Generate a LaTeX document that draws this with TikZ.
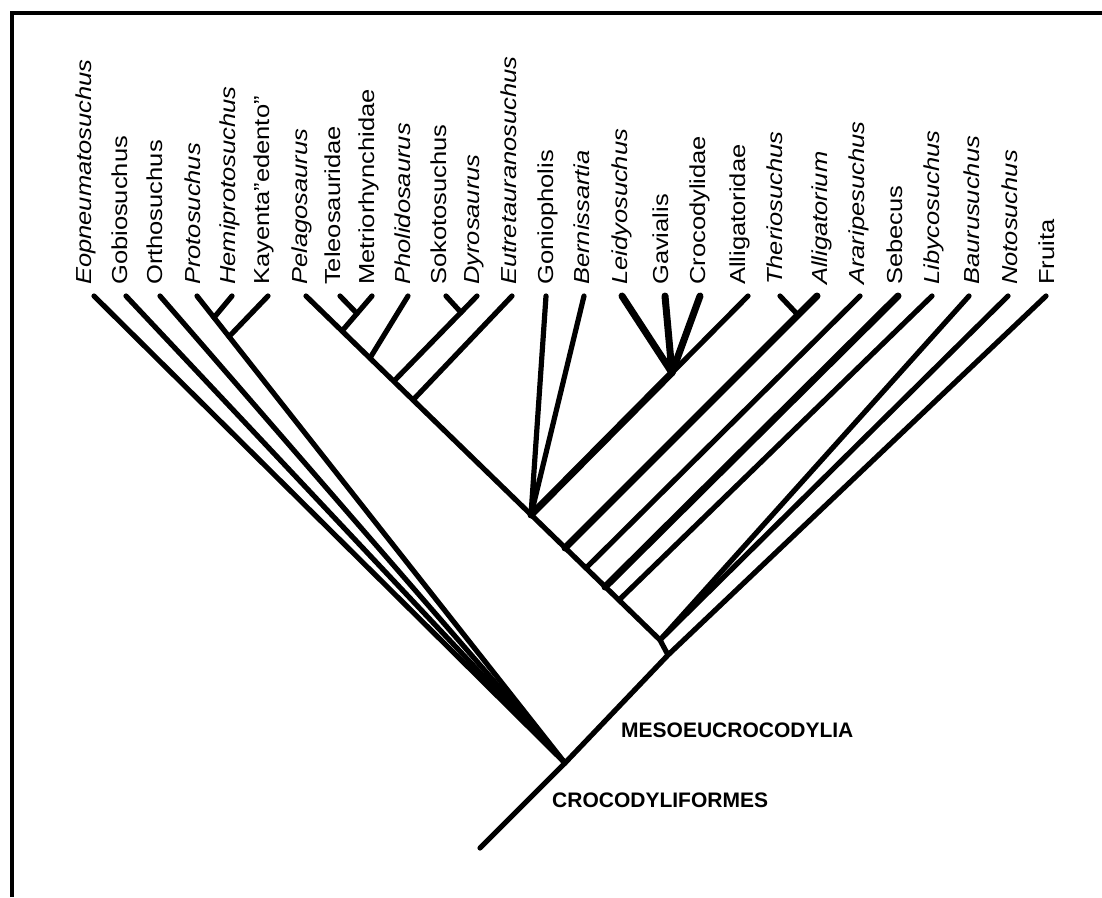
\documentclass[tikz,border=0pt]{standalone}
\usepackage{fontspec}
\setmainfont{Liberation Sans}
\usetikzlibrary{positioning, calc}

\tikzset{
  taxon/.style={rotate=90, yscale=0.85, transform shape,
                anchor=base west, inner sep=0pt,
                font=\fontsize{25.5}{26}\selectfont},
  genus/.style={taxon, font=\fontsize{25.5}{26}\selectfont\itshape},
  clade/.style={anchor=west, inner sep=0pt,
                font=\fontsize{21}{22}\selectfont\bfseries},
  branch/.style={line width=5.2pt, line cap=round, line join=round},
  heavy/.style={branch, line width=7pt},
  frame/.style={line width=3.5pt}
}

\begin{document}
\begin{tikzpicture}[x=1pt, y=-1pt]
  \useasboundingbox (0,0) rectangle (1102,897);
  \draw[frame] (12,897) -- (12,13) -- (1102,13);

  \node[genus] (eop) at (91,285) {Eopneumatosuchus};
  \node[taxon] (gob) at (127,285) {Gobiosuchus};
  \node[taxon] (orth) at (162,285) {Orthosuchus};
  \node[genus] (prot) at (200,285) {Protosuchus};
  \node[genus] (hemi) at (235,285) {Hemiprotosuchus};
  \node[taxon] (kay) at (269,285) {Kayenta''edento''};
  \node[genus] (pel) at (307,285) {Pelagosaurus};
  \node[taxon] (tel) at (340,285) {Teleosauridae};
  \node[taxon] (met) at (374,285) {Metriorhynchidae};
  \node[genus] (phol) at (410,285) {Pholidosaurus};
  \node[taxon] (sok) at (446,285) {Sokotosuchus};
  \node[genus] (dyr) at (479,285) {Dyrosaurus};
  \node[genus] (eut) at (516,285) {Eutretauranosuchus};
  \node[taxon] (gon) at (553,285) {Goniopholis};
  \node[genus] (bern) at (589,285) {Bernissartia};
  \node[genus] (leid) at (627,285) {Leidyosuchus};
  \node[taxon] (gav) at (668,285) {Gavialis};
  \node[taxon] (croc) at (705,285) {Crocodylidae};
  \node[taxon] (alli) at (745,285) {Alligatoridae};
  \node[genus] (ther) at (782,285) {Theriosuchus};
  \node[genus] (aium) at (827,285) {Alligatorium};
  \node[genus] (arar) at (864,285) {Araripesuchus};
  \node[taxon] (seb) at (902,285) {Sebecus};
  \node[genus] (liby) at (939,285) {Libycosuchus};
  \node[genus] (baur) at (979,285) {Baurusuchus};
  \node[genus] (noto) at (1017,285) {Notosuchus};
  \node[taxon] (fru) at (1054,285) {Fruita};

  \coordinate (eopT) at (94,296);
  \coordinate (gobT) at (126,296);
  \coordinate (orthT) at (160,296);
  \coordinate (protT) at (197,296);
  \coordinate (hemiT) at (232,296);
  \coordinate (kayT) at (268,296);
  \coordinate (pelT) at (306,296);
  \coordinate (telT) at (340,296);
  \coordinate (metT) at (372,296);
  \coordinate (pholT) at (408,296);
  \coordinate (sokT) at (446,296);
  \coordinate (dyrT) at (477,296);
  \coordinate (eutT) at (512,296);
  \coordinate (gonT) at (546,296);
  \coordinate (bernT) at (584,296);
  \coordinate (leidT) at (622,296);
  \coordinate (gavT) at (665,296);
  \coordinate (crocT) at (700,296);
  \coordinate (alliT) at (748,296);
  \coordinate (therT) at (780,296);
  \coordinate (aiumT) at (817,296);
  \coordinate (ararT) at (860,296);
  \coordinate (sebT) at (898,296);
  \coordinate (libyT) at (932,296);
  \coordinate (baurT) at (969,296);
  \coordinate (notoT) at (1008,296);
  \coordinate (fruT) at (1046,296);

  \coordinate (root) at (480,848);
  \coordinate (crocy) at (565,763);
  \coordinate (meso) at (668,655);
  \coordinate (bn) at (660,640);
  \coordinate (hp) at (214,317.6);
  \coordinate (kp) at (229,336.6);
  \coordinate (j1) at (342,331);
  \coordinate (tm) at (357,313.5);
  \coordinate (j2) at (370,358);
  \coordinate (j3) at (394,381);
  \coordinate (sd) at (461,312.4);
  \coordinate (j4) at (413,400);
  \coordinate (gn) at (531,515);
  \coordinate (cn) at (672,372.7);
  \coordinate (b1) at (565,548);
  \coordinate (ta) at (798,315);
  \coordinate (b2) at (586,568);
  \coordinate (b3) at (605,587);
  \coordinate (b4) at (619,600);

  \draw[branch] (eopT) -- (crocy);
  \draw[branch] (gobT) -- (crocy);
  \draw[branch] (orthT) -- (crocy);
  \draw[branch] (protT) -- (crocy);
  \draw[branch] (hemiT) -- (hp);
  \draw[branch] (kayT) -- (kp);
  \draw[branch] (root) -- (crocy) -- (meso);

  \draw[branch] (pelT) -- (bn) -- (meso) -- (fruT);
  \draw[branch] (telT) -- (tm);
  \draw[branch] (metT) -- (j1);
  \draw[branch] (pholT) -- (j2);
  \draw[branch] (sokT) -- (sd);
  \draw[branch] (dyrT) -- (j3);
  \draw[branch] (eutT) -- (j4);
  \draw[branch] (gonT) -- (gn) -- (bernT);
  \draw[heavy] (gn) -- (cn);
  \draw[branch] (cn) -- (alliT);
  \draw[heavy] (leidT) -- (cn) -- (gavT);
  \draw[heavy] (crocT) -- (cn);
  \draw[heavy] (b1) -- (aiumT);
  \draw[branch] (therT) -- (ta);
  \draw[branch] (b2) -- (ararT);
  \draw[heavy] (b3) -- (sebT);
  \draw[branch] (b4) -- (libyT);
  \draw[branch] (bn) -- (baurT);
  \draw[branch] (bn) -- (notoT);

  \node[clade] (mesoL) at (621,730) {MESOEUCROCODYLIA};
  \node[clade] (crocyL) at (552,800) {CROCODYLIFORMES};
\end{tikzpicture}
\end{document}
